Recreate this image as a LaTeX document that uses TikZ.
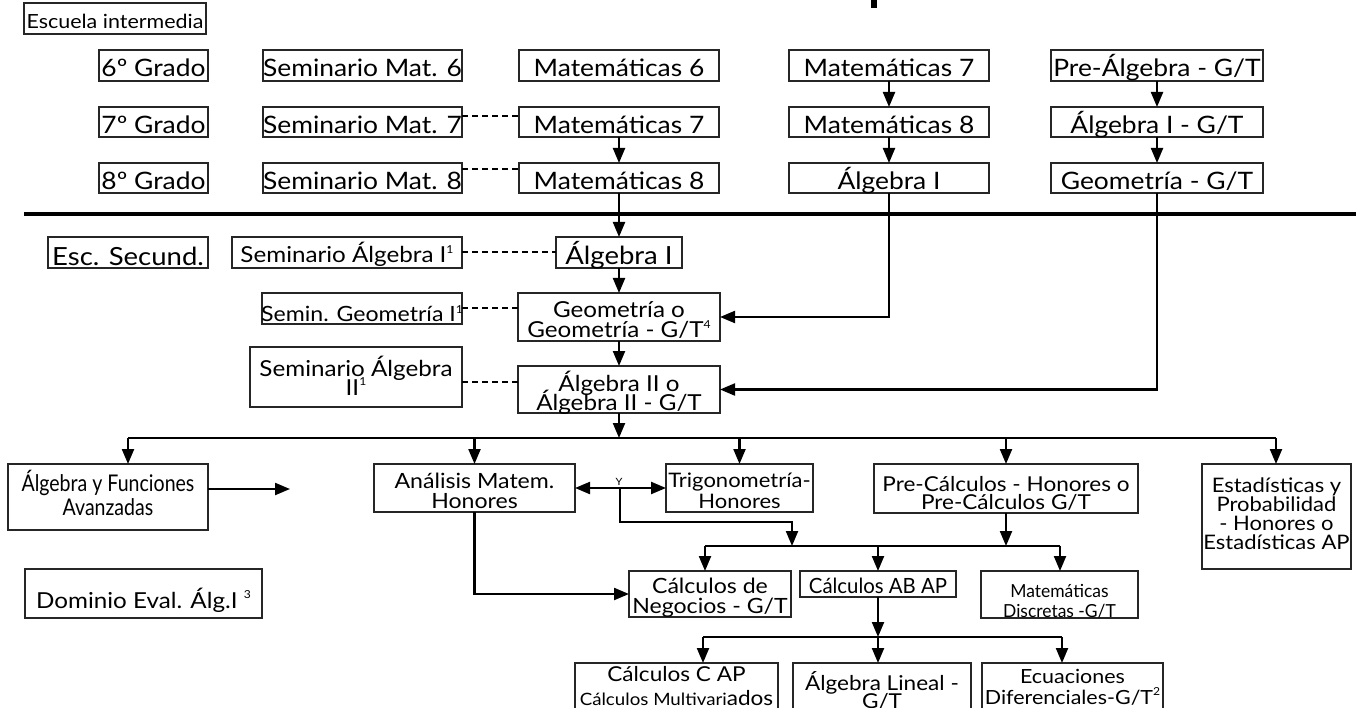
\documentclass[tikz,border=0pt]{standalone}
\usepackage{fontspec}
\setmainfont{Lato}
\newfontfamily\fN[FakeStretch=1.1]{Lato}
\newfontfamily\fC[FakeStretch=0.85]{Lato}
\newfontfamily\fM[FakeStretch=0.97]{Lato}
\usetikzlibrary{arrows.meta,calc}
\newcommand\fz[1]{\fontsize{#1}{#1}\selectfont}
\newcommand\ml[2]{\vtop{\baselineskip=#1pt\lineskiplimit=-100pt\lineskip=0pt\halign{\hfil##\hfil\cr#2\crcr}}}
\newcommand\sps[1]{\raisebox{0.42em}{\fz{11}#1}}
\newcommand\bx[5]{\node[box, minimum width={#4-#2}, minimum height={#5-#3}] (#1) at ({(#2+#4)/2},{(#3+#5)/2}) {};}
\newcommand\tx[5]{\node[txt,#4] (#1) at (#2,#3) {#5};}
\begin{document}
\begin{tikzpicture}[x=1pt,y=-1pt,
  box/.style={draw=black!85, line width=1.2pt, inner sep=0pt, outer sep=0pt},
  txt/.style={inner sep=0pt, anchor=base},
  tp/.style={font=\fN\fz{24}},
  sc/.style={font=\fN\fz{22}},
  con/.style={line width=2.2pt},
  arr/.style={con, -{Triangle[length=15pt,width=12pt]}},
  arr2/.style={con, {Triangle[length=15pt,width=12pt]}-{Triangle[length=15pt,width=12pt]}},
  dsh/.style={line width=2pt, dash pattern=on 6pt off 4pt}]
\useasboundingbox (0,0) rectangle (1356,708);
\clip (0,0) rectangle (1356,708);
\fill[white] (0,0) rectangle (1356,708);
\fill (871,0) rectangle (877,8);
% ---------- middle school
\bx{esc}{24}{3}{206}{34}
\tx{esct}{115}{29}{font=\fN\fz{19.5}}{Escuela intermedia}
\bx{g6}{99}{50}{208}{81}   \tx{g6t}{153.5}{77}{tp}{6º Grado}
\bx{g7}{99}{107}{208}{137} \tx{g7t}{153.5}{133.5}{tp}{7º Grado}
\bx{g8}{99}{163}{208}{193} \tx{g8t}{153.5}{189.5}{tp}{8º Grado}
\bx{s6}{263}{50}{462}{81}   \tx{s6t}{362.5}{77}{tp}{Seminario Mat. 6}
\bx{s7}{263}{107}{462}{137} \tx{s7t}{362.5}{133.5}{tp}{Seminario Mat. 7}
\bx{s8}{263}{163}{462}{193} \tx{s8t}{362.5}{189.5}{tp}{Seminario Mat. 8}
\bx{m6}{519}{50}{719}{81}   \tx{m6t}{619}{77}{tp}{Matemáticas 6}
\bx{m7}{519}{107}{719}{137} \tx{m7t}{619}{133.5}{tp}{Matemáticas 7}
\bx{m8}{519}{163}{719}{193} \tx{m8t}{619}{189.5}{tp}{Matemáticas 8}
\bx{n7}{789}{50}{989}{81}   \tx{n7t}{889}{77}{tp}{Matemáticas 7}
\bx{n8}{789}{107}{989}{137} \tx{n8t}{889}{133.5}{tp}{Matemáticas 8}
\bx{na}{789}{163}{989}{193} \tx{nat}{889}{189.5}{tp}{Álgebra I}
\bx{pa}{1051}{50}{1263}{81}   \tx{pat}{1157}{77}{tp}{Pre-Álgebra - G/T}
\bx{pb}{1051}{107}{1263}{137} \tx{pbt}{1157}{133.5}{tp}{Álgebra I - G/T}
\bx{pc}{1051}{163}{1263}{193} \tx{pct}{1157}{189.5}{tp}{Geometría - G/T}
\draw[dsh] ($(s7.north east)+(0,9)$) -- ($(m7.north west)+(0,9)$);
\draw[dsh] ($(s8.north east)+(0,6)$) -- ($(m8.north west)+(0,6)$);
\draw[arr] (m7.south) -- (m8.north);
\draw[arr] (n7.south) -- (n8.north);
\draw[arr] (n8.south) -- (na.north);
\draw[arr] (pa.south) -- (pb.north);
\draw[arr] (pb.south) -- (pc.north);
\draw[line width=4.5pt] (24,214) -- (1356,214);
% ---------- high school
\bx{es}{48}{237}{208}{268}   \tx{est}{128}{266}{font=\fN\fz{25}}{Esc. Secund.}
\bx{sa1}{232}{237}{462}{268} \tx{sa1t}{347}{263}{sc}{Seminario Álgebra I\sps{1}}
\bx{sa}{556}{237}{682}{268}  \tx{sat}{619}{265}{font=\fN\fz{25}}{Álgebra I}
\bx{sg}{262}{293}{462}{324}  \tx{sgt}{362}{322}{font=\fN\fz{21}}{Semin. Geometría I\sps{1}}
\bx{geo}{518}{293}{720}{341} \tx{geot}{619}{318}{sc}{\ml{20}{Geometría o\cr Geometría - G/T\sps{4}}}
\bx{sa2}{250}{347}{462}{407} \tx{sa2t}{356}{376}{sc}{\ml{19}{Seminario Álgebra\cr II\sps{1}}}
\bx{alg2}{518}{366}{720}{413} \tx{alg2t}{619}{391}{sc}{\ml{19}{Álgebra II o\cr Álgebra II - G/T}}
\draw[dsh] (sa1.east) -- (sa.west);
\draw[dsh] (sg.east) -- (sg.east -| geo.west);
\coordinate (d3) at ($(sa2.east)+(0,5)$);
\draw[dsh] (d3) -- (d3 -| alg2.west);
\draw[arr] (m8.south) -- (sa.north);
\draw[arr] (sa.south) -- (geo.north);
\draw[arr] (geo.south) -- (alg2.north);
\draw[arr] (na.south) |- (geo.east);
\draw[arr] (pc.south) |- (alg2.east);
% ---------- courses
\coordinate (br1) at (620,438);
\coordinate (bl) at (128,438);
\coordinate (brr) at (1276,438);
\bx{af}{8}{464}{208}{530}    \tx{aft}{108}{491}{font=\fC\fz{23}}{\ml{24}{Álgebra y Funciones\cr Avanzadas}}
\bx{an}{374}{464}{575}{512}  \tx{ant}{474.5}{488}{font=\fN\fz{21}}{\ml{20}{Análisis Matem.\cr Honores}}
\bx{tr}{666}{464}{813}{512}  \tx{trt}{739.5}{487}{font=\fN\fz{20}}{\ml{21}{Trigonometría-\cr Honores}}
\bx{pc2}{874}{464}{1138}{513} \tx{pc2t}{1006}{491}{font=\fN\fz{20.5}}{\ml{18.5}{Pre-Cálculos - Honores o\cr Pre-Cálculos G/T}}
\bx{st}{1202}{464}{1351}{569} \tx{stt}{1276.5}{492}{font=\fN\fz{20}}{\ml{19.3}{Estadísticas y\cr Probabilidad\cr - Honores o\cr Estadísticas AP}}
\bx{dom}{25}{569}{262}{618}  \tx{domt}{143.5}{608}{font=\fN\fz{22}}{Dominio Eval. Álg.I \sps{3}}
\bx{cn}{629}{571}{791}{617}  \tx{cnt}{710}{593}{font=\fN\fz{21}}{\ml{20}{Cálculos de\cr Negocios - G/T}}
\bx{ab}{800}{571}{956}{597}  \tx{abt}{878}{593}{font=\fM\fz{21}}{Cálculos AB AP}
\bx{md}{981}{571}{1138}{618} \tx{mdt}{1059.5}{597}{font=\fM\fz{18}}{\ml{20}{Matemáticas\cr Discretas -G/T}}
\bx{cc}{575}{663}{778}{730}  \tx{cct}{676.5}{681}{font=\fN\fz{20.5}}{\ml{24}{Cálculos C AP\cr {\fz{17}Cálculos Multivari}ados}}
\bx{al}{793}{663}{971}{730}  \tx{alt}{882}{690}{font=\fN\fz{20.5}}{\ml{18}{Álgebra Lineal -\cr G/T}}
\bx{ec}{982}{663}{1163}{730} \tx{ect}{1072.5}{683}{font=\fN\fz{19.5}}{\ml{21}{Ecuaciones\cr Diferenciales-G/T\sps{2}}}
\draw[arr] (alg2.south) -- (alg2.south |- br1);
\draw[con] (bl) -- (brr);
\draw[arr] (bl) -- (bl |- af.north);
\draw[arr] (an.north |- br1) -- (an.north);
\draw[arr] (tr.north |- br1) -- (tr.north);
\draw[arr] (pc2.north |- br1) -- (pc2.north);
\draw[arr] (brr) -- (brr |- st.north);
\coordinate (afend) at (290,489);
\draw[arr] (af.east |- afend) -- (afend);
\draw[arr2] (an.east) -- (tr.west);
\node[inner sep=0pt, font=\fN\fz{10}] (ylab) at (619,482) {Y};
\coordinate (j) at (620,488);
\coordinate (j2) at (792,522);
\coordinate (br2l) at (705,546);
\coordinate (br2r) at (1060,546);
\draw[arr] (j) |- (j2) -- (j2 |- br2l);
\draw[arr] (pc2.south) -- (pc2.south |- br2l);
\draw[con] (br2l) -- (br2r);
\draw[arr] (br2l) -- (br2l |- cn.north);
\draw[arr] (ab.north |- br2l) -- (ab.north);
\draw[arr] (br2r) -- (br2r |- md.north);
\draw[arr] (an.south) |- (cn.west);
\coordinate (br3l) at (703,637);
\coordinate (br3r) at (1062,637);
\draw[arr] (ab.south) -- (ab.south |- br3l);
\draw[con] (br3l) -- (br3r);
\draw[arr] (br3l) -- (br3l |- cc.north);
\draw[arr] (ab.south |- br3l) -- (ab.south |- al.north);
\draw[arr] (br3r) -- (br3r |- ec.north);
\end{tikzpicture}
\end{document}
